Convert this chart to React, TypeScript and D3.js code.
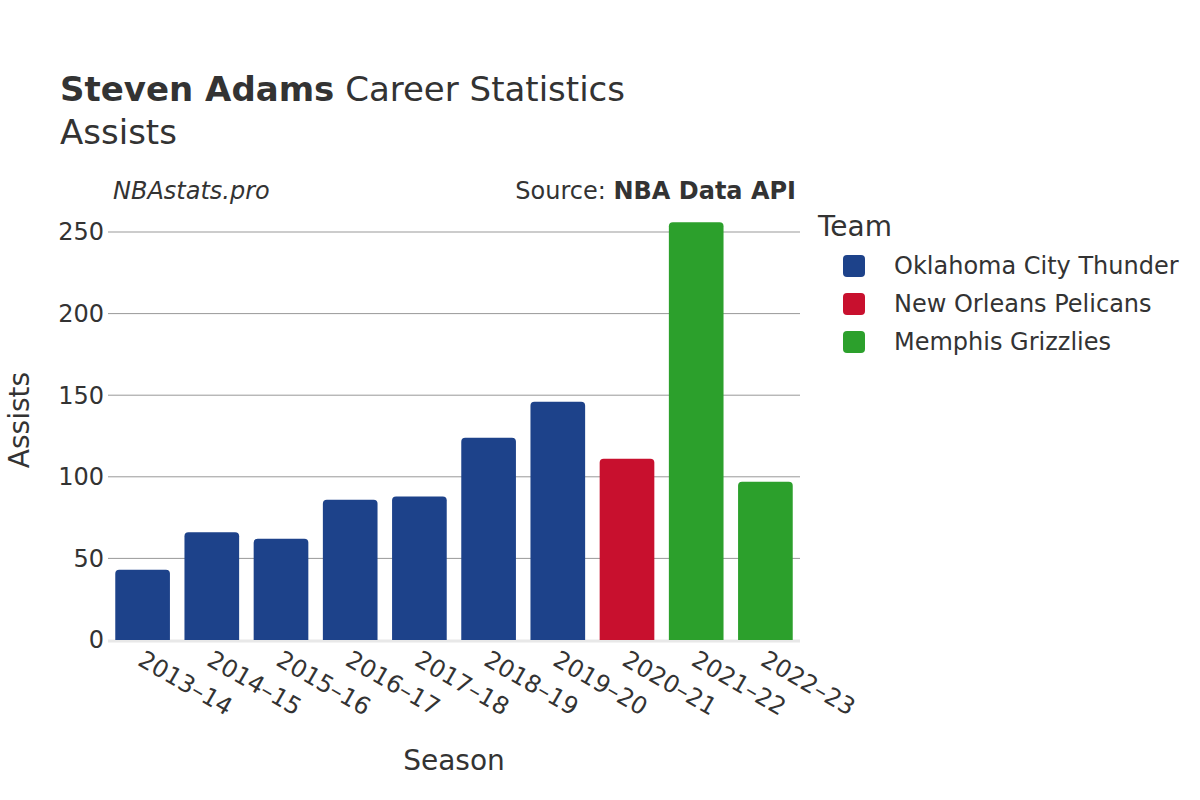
import React from "react";
import * as d3 from "d3";

const seasons = ["2013–14", "2014–15", "2015–16", "2016–17", "2017–18", "2018–19", "2019–20", "2020–21", "2021–22", "2022–23"];
const assists = [43, 66, 62, 86, 88, 124, 146, 111, 256, 97];
const seasonTeams = ["OKC", "OKC", "OKC", "OKC", "OKC", "OKC", "OKC", "NOP", "MEM", "MEM"];
const teamKeys = ["OKC", "NOP", "MEM"];
const teamNames = ["Oklahoma City Thunder", "New Orleans Pelicans", "Memphis Grizzlies"];
const teamColors = ["#1d428a", "#c8102e", "#2ca02c"];
const yTicks = [0, 50, 100, 150, 200, 250];

const W = 1200, H = 800;
const left = 108, right = 800, bottom = 640;
const FONT = "'DejaVu Sans', sans-serif";
const TXT = "#333";

function topRoundedRect(x: number, y: number, w: number, h: number, r: number) {
  const rr = Math.min(r, h, w / 2);
  return `M${x},${y + h}V${y + rr}Q${x},${y} ${x + rr},${y}H${x + w - rr}Q${x + w},${y} ${x + w},${y + rr}V${y + h}Z`;
}

export default function App() {
  const x = d3.scaleBand<string>().domain(seasons).range([left, right]).paddingInner(0.21).paddingOuter(0.105);
  const y = d3.scaleLinear().domain([0, 250]).range([bottom, 232]);
  const color = d3.scaleOrdinal<string, string>().domain(teamKeys).range(teamColors);

  return (
    <svg width={W} height={H} style={{ display: "block", position: "absolute", left: 0, top: 0 }} fontFamily={FONT}>
      <rect width={W} height={H} fill="#fff" />
      <text x={60} y={101} fontSize={34} fill={TXT}>
        <tspan fontWeight="bold">Steven Adams</tspan>
        <tspan> Career Statistics</tspan>
      </text>
      <text x={60} y={144} fontSize={34} fill={TXT}>Assists</text>
      <text x={113} y={199} fontSize={24} fontStyle="italic" fill={TXT}>NBAstats.pro</text>
      <text x={796} y={199} fontSize={24} textAnchor="end" fill={TXT}>
        <tspan>Source: </tspan>
        <tspan fontWeight="bold">NBA Data API</tspan>
      </text>

      {yTicks.filter(t => t > 0).map(t => (
        <line key={t} x1={left} x2={right} y1={y(t)} y2={y(t)} stroke="#999" strokeWidth={1} />
      ))}
      <line x1={left} x2={right} y1={y(0) + 1} y2={y(0) + 1} stroke="#e8e8e8" strokeWidth={3} />

      {yTicks.map(t => (
        <text key={t} x={104} y={y(t)} dy="0.35em" fontSize={24} textAnchor="end" fill={TXT}>{t}</text>
      ))}

      {seasons.map((s, i) => (
        <path key={s} d={topRoundedRect(x(s)!, y(assists[i]), x.bandwidth(), y(0) - y(assists[i]), 4)} fill={color(seasonTeams[i])} />
      ))}

      {seasons.map(s => {
        const cx = x(s)! + x.bandwidth() / 2;
        return (
          <text key={s} transform={`translate(${cx - 2},${657}) rotate(30)`} fontSize={24} fill={TXT} dy="0.35em">{s}</text>
        );
      })}

      <text x={454} y={770} fontSize={28} textAnchor="middle" fill={TXT}>Season</text>
      <text transform={`translate(29,420) rotate(-90)`} fontSize={28} textAnchor="middle" fill={TXT}>Assists</text>

      <text x={818} y={236} fontSize={28} fill={TXT}>Team</text>
      {teamKeys.map((k, i) => (
        <g key={k} transform={`translate(0,${266 + i * 38})`}>
          <rect x={843} y={-11} width={22} height={22} rx={4} fill={color(k)} />
          <text x={894} y={0} dy="0.35em" fontSize={24} fill={TXT}>{teamNames[i]}</text>
        </g>
      ))}
    </svg>
  );
}
